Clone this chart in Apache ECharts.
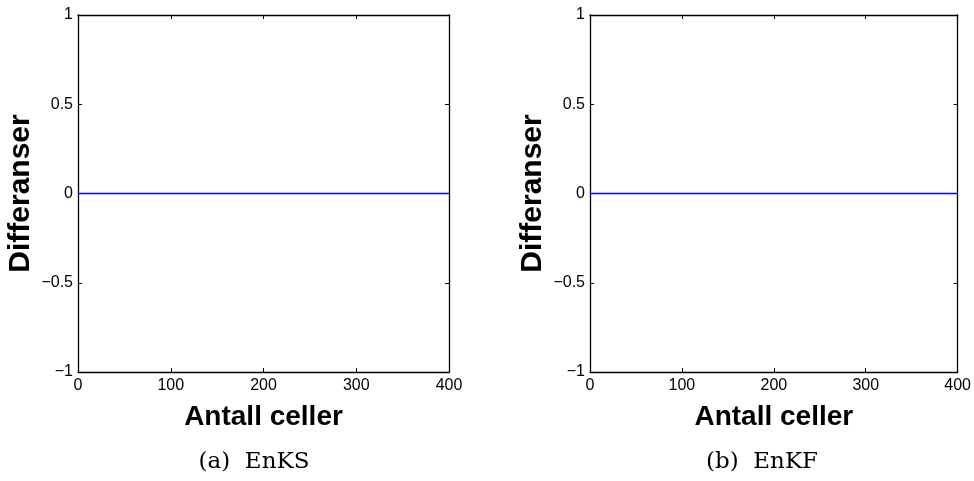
<!DOCTYPE html>
<html>
<head>
<meta charset="utf-8">
<script src="https://cdn.jsdelivr.net/npm/echarts@6/dist/echarts.min.js"></script>
<style>
  html, body { margin: 0; padding: 0; background: #fff; }
  #chart { width: 974px; height: 481px; }
</style>
</head>
<body>
<div id="chart"></div>
<script>
// Difference between two runs per cell, for the smoother and the filter
const cells = [0, 100, 200, 300, 400];
const diffEnKS = [0, 0, 0, 0, 0];
const diffEnKF = [0, 0, 0, 0, 0];
const panelCaptions = ['(a)\u00a0 EnKS', '(b)\u00a0 EnKF'];
const xTitle = 'Antall celler';
const yTitle = 'Differanser';

const SANS = 'Liberation Sans, Arial, Helvetica, sans-serif';
const SERIF = 'DejaVu Serif, Liberation Serif, serif';

const grids = [
  { left: 78, top: 15, width: 371, height: 357 },
  { left: 590, top: 15, width: 371, height: 357 }
];

const minus = v => String(v).replace('-', '\u2212');

function xAxes(gi) {
  const common = {
    type: 'value', gridIndex: gi, min: 0, max: 400, interval: 100,
    axisLine: { show: true, onZero: false, lineStyle: { color: '#000', width: 1.3 } },
    axisTick: { show: true, inside: true, length: 4, lineStyle: { color: '#000' } },
    splitLine: { show: false }
  };
  return [
    Object.assign({}, common, {
      position: 'bottom',
      axisLabel: { color: '#000', fontFamily: SANS, fontSize: 16, margin: 6, formatter: minus },
      name: xTitle, nameLocation: 'middle', nameGap: 31,
      nameTextStyle: { color: '#000', fontFamily: SANS, fontSize: 28, fontWeight: 'bold' }
    }),
    Object.assign({}, common, { position: 'top', axisLabel: { show: false } })
  ];
}

function yAxes(gi) {
  const common = {
    type: 'value', gridIndex: gi, min: -1, max: 1, interval: 0.5,
    axisLine: { show: true, onZero: false, lineStyle: { color: '#000', width: 1.3 } },
    axisTick: { show: true, inside: true, length: 4, lineStyle: { color: '#000' } },
    splitLine: { show: false }
  };
  return [
    Object.assign({}, common, {
      position: 'left',
      axisLabel: { color: '#000', fontFamily: SANS, fontSize: 16, margin: 5, formatter: minus },
      name: yTitle, nameLocation: 'middle', nameGap: 42, nameRotate: 90,
      nameTextStyle: { color: '#000', fontFamily: SANS, fontSize: 30, fontWeight: 'bold' }
    }),
    Object.assign({}, common, { position: 'right', axisLabel: { show: false } })
  ];
}

const xAxis = [].concat(xAxes(0), xAxes(1));
const yAxis = [].concat(yAxes(0), yAxes(1));

function lineSeries(xi, yi, values) {
  return {
    type: 'line', xAxisIndex: xi, yAxisIndex: yi,
    data: cells.map((c, i) => [c, values[i]]),
    showSymbol: false, symbol: 'none', silent: true, z: 5,
    color: '#0000ff',
    itemStyle: { color: '#0000ff' },
    lineStyle: { color: '#0000ff', width: 1.3 }
  };
}

const captionX = [254, 762];

const option = {
  animation: false,
  backgroundColor: '#fff',
  grid: grids,
  xAxis: xAxis,
  yAxis: yAxis,
  series: [
    lineSeries(0, 0, diffEnKS),
    lineSeries(2, 2, diffEnKF)
  ],
  graphic: panelCaptions.map((t, i) => ({
    type: 'text', x: captionX[i], y: 462,
    style: { text: t, fontFamily: SERIF, fontSize: 23, fill: '#000', align: 'center', verticalAlign: 'middle' }
  }))
};

echarts.init(document.getElementById('chart'), null, { renderer: 'canvas' }).setOption(option);
</script>
</body>
</html>
